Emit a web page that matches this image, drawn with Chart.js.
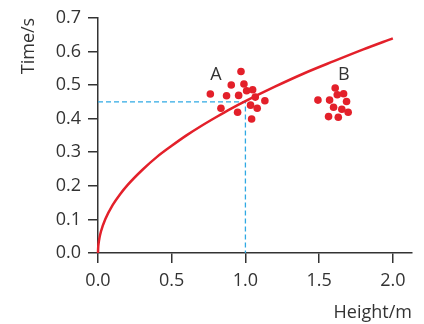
<!DOCTYPE html>
<html>
<head>
<meta charset="utf-8">
<script src="https://cdn.jsdelivr.net/npm/chart.js@4/dist/chart.umd.min.js"></script>
<style>
  html, body { margin: 0; padding: 0; background: #fff; }
  #wrap { width: 424px; height: 324px; }
</style>
</head>
<body>
<div id="wrap"><canvas id="chart" width="424" height="324"></canvas></div>
<script>
// curve (height in m, time in s)
const curveH = [0, 0.001, 0.005, 0.01, 0.02, 0.05, 0.1, 0.15, 0.2, 0.3, 0.4, 0.5, 0.6, 0.7, 0.8, 0.9, 1.0, 1.2, 1.4, 1.6, 1.8, 2.0];
const curveT = [0, 0.014, 0.032, 0.045, 0.064, 0.101, 0.143, 0.175, 0.202, 0.247, 0.286, 0.319, 0.350, 0.378, 0.404, 0.429, 0.452, 0.495, 0.535, 0.571, 0.606, 0.639];

// group A measurements
const aH = [0.970, 0.904, 0.990, 0.762, 0.872, 0.954, 1.008, 1.049, 1.067, 1.132, 1.035, 1.080, 0.834, 0.947, 1.042];
const aT = [0.540, 0.500, 0.503, 0.473, 0.468, 0.469, 0.483, 0.486, 0.464, 0.453, 0.440, 0.431, 0.431, 0.419, 0.399];

// group B measurements
const bH = [1.609, 1.492, 1.571, 1.623, 1.666, 1.686, 1.598, 1.654, 1.697, 1.564, 1.630];
const bT = [0.491, 0.455, 0.455, 0.471, 0.474, 0.451, 0.434, 0.428, 0.419, 0.406, 0.404];

// dashed reading guide
const guideH = [0, 1.0, 1.0];
const guideT = [0.45, 0.45, 0];

// group labels
const groupNames = ['A', 'B'];
const groupH = [0.80, 1.668];
const groupT = [0.53, 0.53];

const xTicks = [0, 0.5, 1.0, 1.5, 2.0];
const yTicks = [0, 0.1, 0.2, 0.3, 0.4, 0.5, 0.6, 0.7];

const red = '#e3202a';
const ink = '#333333';
const font = { family: '"Open Sans", "Noto Sans", sans-serif', size: 18 };

const toXY = (xs, ys) => xs.map((x, i) => ({ x: x, y: ys[i] }));

const groupLabels = {
  id: 'groupLabels',
  afterDatasetsDraw(chart) {
    const { ctx, scales } = chart;
    ctx.save();
    ctx.fillStyle = ink;
    ctx.font = '18px ' + font.family;
    ctx.textAlign = 'center';
    ctx.textBaseline = 'middle';
    groupNames.forEach((name, i) => {
      ctx.fillText(name, scales.x.getPixelForValue(groupH[i]), scales.y.getPixelForValue(groupT[i]));
    });
    ctx.restore();
  }
};

new Chart(document.getElementById('chart'), {
  type: 'scatter',
  data: {
    datasets: [
      {
        label: 'guide',
        type: 'line',
        data: toXY(guideH, guideT),
        borderColor: '#2fa9e3',
        borderWidth: 1.3,
        borderDash: [5, 3],
        pointRadius: 0,
        fill: false,
        order: 3
      },
      {
        label: 'curve',
        type: 'line',
        data: toXY(curveH, curveT),
        borderColor: red,
        borderWidth: 2.5,
        pointRadius: 0,
        cubicInterpolationMode: 'monotone',
        fill: false,
        clip: false,
        order: 2
      },
      {
        label: 'A',
        data: toXY(aH, aT),
        backgroundColor: red,
        borderWidth: 0,
        pointRadius: 3.8,
        order: 1
      },
      {
        label: 'B',
        data: toXY(bH, bT),
        backgroundColor: red,
        borderWidth: 0,
        pointRadius: 3.8,
        order: 1
      }
    ]
  },
  options: {
    responsive: false,
    animation: false,
    layout: { padding: { top: 16, right: 12, left: 0, bottom: 0 } },
    plugins: {
      legend: { display: false },
      tooltip: { enabled: false }
    },
    scales: {
      x: {
        type: 'linear',
        min: 0,
        max: 2.13,
        afterFit: s => { s.height = 324 - 253; },
        afterBuildTicks: s => { s.ticks = xTicks.map(v => ({ value: v })); },
        border: { color: ink, width: 1.5 },
        grid: { drawOnChartArea: false, drawTicks: true, tickLength: 10, color: ink, lineWidth: 1.5 },
        ticks: {
          color: ink,
          font: font,
          padding: 7,
          callback: v => v.toFixed(1)
        },
        title: {
          display: true,
          text: 'Height/m',
          align: 'end',
          color: ink,
          font: font,
          padding: { top: 4, bottom: 0 }
        }
      },
      y: {
        type: 'linear',
        min: 0,
        max: 0.7,
        afterFit: s => { s.width = 98; },
        afterBuildTicks: s => { s.ticks = yTicks.map(v => ({ value: v })); },
        border: { color: ink, width: 1.5 },
        grid: { drawOnChartArea: false, drawTicks: true, tickLength: 10, color: ink, lineWidth: 1.5 },
        ticks: {
          color: ink,
          font: font,
          padding: 7,
          callback: v => v.toFixed(1)
        },
        title: {
          display: true,
          text: 'Time/s',
          align: 'end',
          color: ink,
          font: font,
          padding: { top: 18, bottom: 0 }
        }
      }
    }
  },
  plugins: [groupLabels]
});
</script>
</body>
</html>
